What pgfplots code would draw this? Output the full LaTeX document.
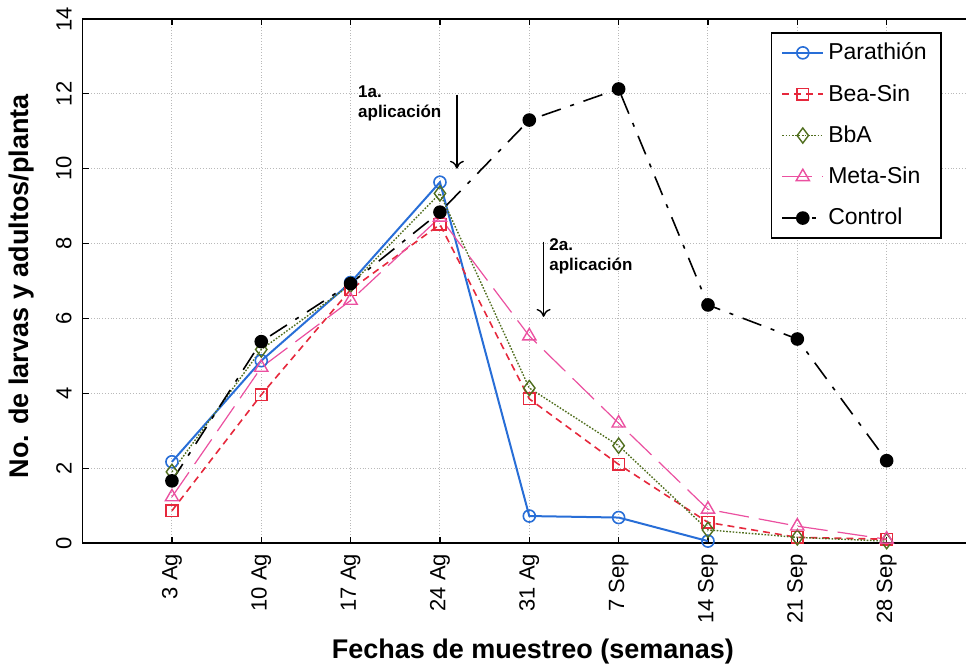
\documentclass[border=0pt]{standalone}
\usepackage{fontspec}
\setmainfont{Liberation Sans}
\usepackage{pgfplots}
\pgfplotsset{compat=1.18}
\usetikzlibrary{arrows.meta}
\definecolor{cPar}{RGB}{40,110,215}
\definecolor{cBea}{RGB}{230,40,60}
\definecolor{cBbA}{RGB}{80,110,30}
\definecolor{cMeta}{RGB}{235,80,160}
\begin{document}
\begin{tikzpicture}
\begin{axis}[
  scale only axis, width=446.7pt, height=262pt,
  xmin=0, xmax=10, ymin=0, ymax=14,
  xtick={1,2,3,4,5,6,7,8,9},
  xticklabels={3 Ag,10 Ag,17 Ag,24 Ag,31 Ag,7 Sep,14 Sep,21 Sep,28 Sep},
  ytick={0,2,4,6,8,10,12,14},
  /pgf/number format/assume math mode=true,
  xticklabel style={rotate=90, anchor=east, font=\fontsize{11}{13}\selectfont},
  xticklabel shift=2pt,
  yticklabel style={rotate=90, anchor=south, font=\fontsize{11}{13}\selectfont},
  yticklabel shift=2pt,
  tick style={black, line width=0.6pt},
  major tick length=3pt,
  axis line style={line width=0.9pt},
  grid=major, grid style={densely dotted, gray!55, line width=0.5pt},
  xlabel={Fechas de muestreo (semanas)},
  ylabel={No. de larvas y adultos/planta},
  label style={font=\bfseries\fontsize{13.5}{16}\selectfont},
  xlabel style={at={(axis description cs:0.504,-0.208)}, anchor=center},
  ylabel style={at={(axis description cs:-0.0683,0.49)}, anchor=center},
  legend cell align=left,
  legend style={at={(axis description cs:0.770,0.975)}, anchor=north west,
    draw=black, line width=0.8pt, font=\fontsize{11.5}{13}\selectfont,
    row sep=6.8pt, inner xsep=5pt, inner ysep=3pt},
  legend image code/.code={\draw[mark repeat=2,mark phase=2] plot coordinates {(0cm,0cm) (0.36cm,0cm) (0.72cm,0cm)};},
]
\addplot[cPar, line width=1pt, mark=o, mark size=3pt, mark options={solid, line width=0.8pt}]
  coordinates {(1,2.17) (2,4.87) (3,6.96) (4,9.64) (5,0.72) (6,0.68) (7,0.05)};
\addlegendentry{Parathión}
\addplot[cBea, line width=0.8pt, dash pattern=on 3.5pt off 2.5pt, mark=square, mark size=2.9pt, mark options={solid, line width=0.8pt}]
  coordinates {(1,0.86) (2,3.96) (3,6.77) (4,8.51) (5,3.85) (6,2.1) (7,0.55) (8,0.15) (9,0.1)};
\addlegendentry{Bea-Sin}
\addplot[cBbA, line width=0.7pt, dash pattern=on 0.8pt off 0.8pt, mark=diamond, mark size=3.8pt, mark options={solid, line width=0.7pt}]
  coordinates {(1,1.9) (2,5.17) (3,6.9) (4,9.34) (5,4.14) (6,2.6) (7,0.35) (8,0.15) (9,0.05)};
\addlegendentry{BbA}
\addplot[cMeta, line width=0.6pt, dash pattern=on 15pt off 5pt, mark=triangle, mark size=3.8pt, mark options={solid, line width=0.7pt}]
  coordinates {(1,1.23) (2,4.69) (3,6.48) (4,8.7) (5,5.53) (6,3.2) (7,0.9) (8,0.45) (9,0.1)};
\addlegendentry{Meta-Sin}
\addplot[black, line width=0.8pt, dash pattern=on 10pt off 5pt on 2pt off 5pt, mark=*, mark size=3pt, mark options={solid}]
  coordinates {(1,1.66) (2,5.38) (3,6.93) (4,8.84) (5,11.3) (6,12.13) (7,6.36) (8,5.45) (9,2.2)};
\addlegendentry{Control}
\node[anchor=north west, align=left, inner sep=0pt, font=\bfseries\fontsize{8.5}{10}\selectfont]
  at (axis cs:3.08,12.22) {1a.\\aplicación};
\draw[-{To[length=4pt,width=7pt]}, line width=0.7pt] (axis cs:4.19,11.98) -- (axis cs:4.19,10.0);
\node[anchor=north west, align=left, inner sep=0pt, font=\bfseries\fontsize{8.5}{10}\selectfont]
  at (axis cs:5.22,8.13) {2a.\\aplicación};
\draw[-{To[length=4pt,width=7pt]}, line width=0.7pt] (axis cs:5.16,8.05) -- (axis cs:5.16,6.04);
\end{axis}
\pgfresetboundingbox
\path ([xshift=-41.3pt,yshift=-62.5pt]current axis.south west) rectangle ([xshift=441.7pt,yshift=9.5pt]current axis.north west);
\end{tikzpicture}
\end{document}
